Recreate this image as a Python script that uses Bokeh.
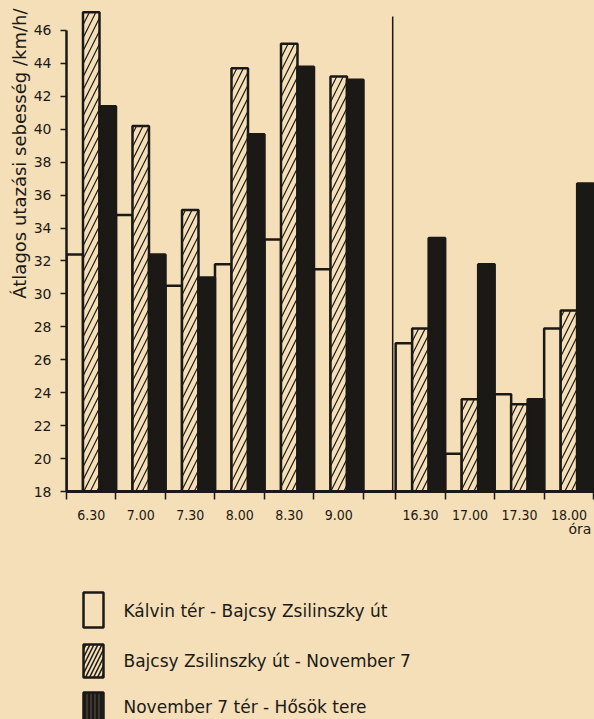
from bokeh.plotting import figure
from bokeh.layouts import column
from bokeh.models import Range1d, FixedTicker, Title, ColumnDataSource
from bokeh.core.properties import value
from bokeh.embed import file_html
from bokeh.resources import INLINE

# ---- data ----
times = ["6.30", "7.00", "7.30", "8.00", "8.30", "9.00", "16.30", "17.00", "17.30", "18.00"]
kalvin = [32.4, 34.8, 30.5, 31.8, 33.3, 31.5, 27.0, 20.3, 23.9, 27.9]
bajcsy = [47.1, 40.2, 35.1, 43.7, 45.2, 43.2, 27.9, 23.6, 23.3, 29.0]
nov7 = [41.4, 32.4, 31.0, 39.7, 43.8, 43.0, 33.4, 31.8, 23.6, 36.7]
series_names = ["Kálvin tér - Bajcsy Zsilinszky út",
                "Bajcsy Zsilinszky út - November 7",
                "November 7 tér - Hősök tere"]
y_ticks = list(range(18, 47, 2))

BG = "#f4dfb8"
INK = "#1b1916"
FONT = "DejaVu Sans"
NARROW = "DejaVu Sans Condensed"

# layout of groups: 6 morning groups, gap, 4 afternoon groups
GAP = 0.65
starts = [i if i < 6 else i + GAP for i in range(len(times))]
centers = [s + 0.5 for s in starts]
boundaries = list(range(0, 7)) + [6 + GAP + j for j in range(5)]
divider_x = 6 + GAP - 0.06

W = 594
H_MAIN = 522
p = figure(width=W, height=H_MAIN, x_range=Range1d(0, 10.667), y_range=Range1d(18, 47.82),
           output_backend="svg", toolbar_location=None,
           min_border_left=66, min_border_right=0, min_border_top=0, min_border_bottom=30)
p.background_fill_color = BG
p.border_fill_color = BG
p.outline_line_color = None
p.xgrid.grid_line_color = None
p.ygrid.grid_line_color = None

styles = [
    dict(fill_color=BG, hatch_pattern=None),
    dict(fill_color=BG, hatch_pattern="right_diagonal_line"),
    dict(fill_color=INK, hatch_pattern=None),
]
for k, vals in enumerate([kalvin, bajcsy, nov7]):
    src = ColumnDataSource(dict(x=[s + (k + 0.5) / 3 for s in starts], top=vals))
    st = styles[k]
    kw = dict(x="x", top="top", bottom=18, width=1 / 3, source=src,
              fill_color=st["fill_color"], line_color=INK, line_width=2.5)
    if st["hatch_pattern"]:
        kw.update(hatch_pattern=st["hatch_pattern"], hatch_scale=13, hatch_weight=1.2, hatch_color=INK)
    p.vbar(**kw)

# divider line separating morning and afternoon
p.segment(x0=[divider_x], y0=[18], x1=[divider_x], y1=[46.85], line_color=INK, line_width=1.5)

# x axis
xa = p.xaxis[0]
xa.ticker = FixedTicker(ticks=centers, minor_ticks=boundaries)
xa.major_label_overrides = {c: t for c, t in zip(centers, times)}
xa.major_tick_out = 0
xa.major_tick_in = 0
xa.minor_tick_out = 8
xa.minor_tick_in = 0
xa.minor_tick_line_width = 1.5
xa.minor_tick_line_color = INK
xa.axis_line_width = 3
xa.axis_line_color = INK
xa.major_label_standoff = 10
xa.major_label_text_font = NARROW
xa.major_label_text_font_size = "14px"
xa.major_label_text_color = INK

# y axis
ya = p.yaxis[0]
ya.ticker = FixedTicker(ticks=y_ticks)
ya.bounds = (18, 46)
ya.axis_line_width = 2.5
ya.axis_line_color = INK
ya.major_tick_out = 6
ya.major_tick_in = 0
ya.major_tick_line_width = 1.5
ya.major_tick_line_color = INK
ya.minor_tick_out = 0
ya.minor_tick_in = 0
ya.major_label_standoff = 9
ya.major_label_text_font = FONT
ya.major_label_text_font_size = "14px"
ya.major_label_text_color = INK

p.add_layout(Title(text="Átlagos utazási sebesség /km/h/", align="right", offset=8,
                   standoff=2, text_font=FONT, text_font_size="18px",
                   text_font_style="normal", text_color=INK), "left")

# ---- legend panel (its data coordinates equal page pixels) ----
q = figure(width=W, height=719 - H_MAIN, x_range=Range1d(66, W), y_range=Range1d(719, H_MAIN),
           output_backend="svg", toolbar_location=None,
           min_border_left=66, min_border_right=0, min_border_top=0, min_border_bottom=0)
q.background_fill_color = None
q.border_fill_color = BG
q.outline_line_color = None
q.axis.visible = False
q.grid.visible = False

sw_left, sw_right = 83, 103
sw_top = [592, 644, 692]
sw_bot = [627, 677, 735]
q.quad(left=sw_left, right=sw_right, top=[sw_top[0]], bottom=[sw_bot[0]],
       fill_color=BG, line_color=INK, line_width=2.5)
q.quad(left=sw_left, right=sw_right, top=[sw_top[1]], bottom=[sw_bot[1]],
       fill_color=BG, line_color=INK, line_width=2.5,
       hatch_pattern="right_diagonal_line", hatch_scale=8, hatch_weight=1.5, hatch_color=INK)
q.quad(left=sw_left, right=sw_right, top=[sw_top[2]], bottom=[sw_bot[2]],
       fill_color=INK, line_color=INK, line_width=2.5,
       hatch_pattern="vertical_line", hatch_scale=4, hatch_weight=0.8, hatch_color="#6b6357")
q.text(x=[123, 123, 123], y=[610, 660, 706], text=series_names,
       text_font=value(FONT), text_font_size="17px", text_color=INK,
       text_baseline="middle", text_align="left")
q.text(x=[568], y=[528], text=["óra"], text_font=value(FONT), text_font_size="14px",
       text_color=INK, text_baseline="middle", text_align="left")

layout = column(p, q, spacing=0, styles={"background-color": BG})
html = file_html(layout, INLINE)
html = html.replace("<body>", '<body style="background-color:%s;">' % BG, 1)
open("out.html", "w").write(html)
